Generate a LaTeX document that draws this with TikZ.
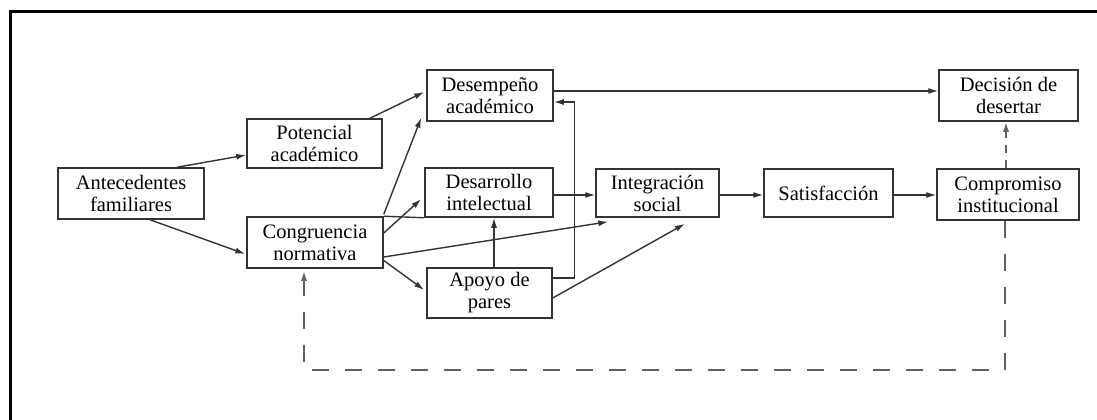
\documentclass[tikz,border=0pt]{standalone}
\usepackage{fontspec}
\setmainfont{Liberation Serif}
\usetikzlibrary{arrows.meta,calc}
\begin{document}
\begin{tikzpicture}[x=1pt,y=-1pt,
  box/.style={draw=black!80,line width=1.5pt,rectangle,inner sep=0pt,align=center,
    font=\fontsize{20.5}{22}\selectfont,text=black},
  arr/.style={draw=black!80,line width=1.4pt,-{Latex[length=10pt,width=6pt]}},
  pln/.style={draw=black!80,line width=1.4pt},
  fb/.style={draw=black!62,line width=1.8pt,dash pattern=on 17pt off 16pt},
  fbarr/.style={fb,-{Latex[length=10pt,width=6pt]}}
]
\useasboundingbox (0,0) rectangle (1097,420);
\draw[line width=3pt,black] (10,420) -- (10,12) -- (1097,12);

\node[box,minimum width=146pt,minimum height=51pt] (ant) at (131,193.5) {Antecedentes\\familiares};
\node[box,minimum width=135pt,minimum height=49pt] (pot) at (314.5,143.5) {Potencial\\académico};
\node[box,minimum width=136pt,minimum height=51pt] (con) at (315,242.5) {Congruencia\\normativa};
\node[box,minimum width=126pt,minimum height=51pt] (des) at (490,95.5) {Desempeño\\académico};
\node[box,minimum width=128pt,minimum height=49pt] (dai) at (489,192.5) {Desarrollo\\intelectual};
\node[box,minimum width=123pt,minimum height=48pt] (ints) at (657.5,193) {Integración\\social};
\node[box,minimum width=125pt,minimum height=50pt] (apo) at (489.5,293) {Apoyo de\\pares};
\node[box,minimum width=129pt,minimum height=48pt] (sat) at (828.5,193) {Satisfacción};
\node[box,minimum width=142pt,minimum height=51pt] (com) at (1008,194.5) {Compromiso\\institucional};
\node[box,minimum width=139pt,minimum height=51pt] (dec) at (1008.5,95.5) {Decisión de\\desertar};

% connectors
\draw[arr] ($(ant.north)+(46,0)$) -- ($(pot.west)+(0,11.5)$);
\draw[arr] ($(ant.south)+(19,0)$) -- ($(con.west)+(-1,11.5)$);
\draw[arr] ($(pot.north)+(55.5,0)$) -- ($(des.west)+(-2,-3.5)$);
\draw[arr] ($(con.north east)+(0,-2)$) -- ($(des.south west)+(-5,-4)$);
\draw[arr] ($(con.east)+(0,-9.5)$) -- ($(dai.west)+(-3,6.5)$);
\draw[pln] (con.north east) -- (dai.south west);
\draw[arr] ($(con.east)+(0,14.5)$) -- ($(ints.south west)+(13,4)$);
\draw[arr] ($(con.east)+(0,18)$) -- ($(apo.west)+(-2,-3)$);
\draw[arr] ($(dai.east)+(0,2.5)$) -- ($(ints.west)+(0,2)$);
\draw[arr] ($(apo.north)+(4.5,0)$) -- ($(dai.south)+(5,0)$);
\coordinate (r1) at ($(apo.east)+(22,-15)$);
\draw[arr] ($(apo.east)+(0,-15)$) -- (r1) |- ($(des.east)+(0,6.5)$);
\draw[arr] ($(apo.east)+(0,5)$) -- ($(ints.south)+(27.5,6)$);
\draw[arr] ($(des.east)+(0,-4.5)$) -- ($(dec.west)+(0,-4.5)$);
\draw[arr] ($(ints.east)+(0,2)$) -- ($(sat.west)+(0,2)$);
\draw[arr] ($(sat.east)+(0,2)$) -- ($(com.west)+(0,0.5)$);
\draw[fbarr,dash pattern=on 8pt off 7pt] ($(com.north)+(-2,0)$) -- ($(dec.south)+(-2.5,0)$);
\coordinate (c1) at ($(com.south)+(-3,149)$);
\draw[fbarr] ($(com.south)+(-3,0)$) -- (c1) -| ($(con.south)+(-11,2)$);
\end{tikzpicture}
\end{document}
